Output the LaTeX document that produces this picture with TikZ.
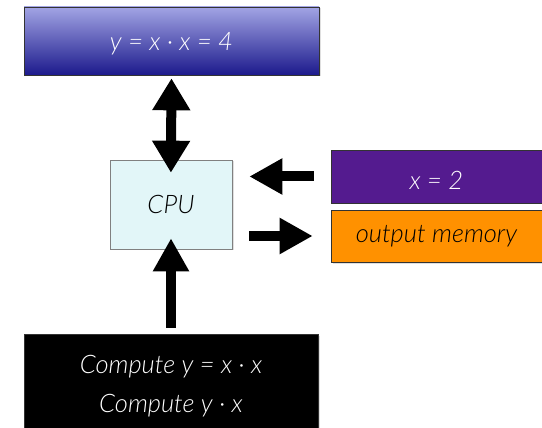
\documentclass[tikz,border=0pt]{standalone}
\usepackage{fontspec}
\setmainfont{Lato}[ItalicFont={Lato Light Italic}]
\usetikzlibrary{arrows.meta,shadows}
\definecolor{memtop}{HTML}{A2A4E4}
\definecolor{membot}{HTML}{1C1A8C}
\definecolor{cpufill}{HTML}{E2F6F8}
\definecolor{xbox}{HTML}{541B8F}
\definecolor{outbox}{HTML}{FF9100}
\tikzset{
  box/.style={draw=black!80, line width=0.6pt, inner sep=0pt,
    font=\fontsize{25.5}{39}\selectfont\itshape,
    drop shadow={opacity=0.25, shadow xshift=1.5pt, shadow yshift=-1.5pt}},
  blk/.style={line width=10pt, -{Triangle[length=33pt,width=34pt]}},
  dblk/.style={line width=10pt, {Triangle[length=32pt,width=36pt]}-{Triangle[length=32pt,width=36pt]}}
}
\begin{document}
\begin{tikzpicture}[x=1pt,y=-1pt]
\useasboundingbox (0,0) rectangle (542,428);
% memory holding the result
\node[box, top color=memtop, bottom color=membot, text=white,
  minimum width=295, minimum height=68] (mem) at (171.5,41) {};
\node[font=\fontsize{25.5}{39}\selectfont\itshape, text=white] (memtxt) at (171.5,44) {y = x · x = 4};
% processor
\node[box, fill=cpufill, draw=black!50, minimum width=122, minimum height=89]
  (cpu) at (171,204.5) {CPU};
% input value
\node[box, fill=xbox, text=white, minimum width=211, minimum height=53]
  (xin) at (436.5,176.5) {};
\node[font=\fontsize{25.5}{39}\selectfont\itshape, text=white] (xtxt) at (436.5,180) {x = 2};
% output memory
\node[box, fill=outbox, text=black, minimum width=211, minimum height=52]
  (out) at (436.5,236) {output memory};
% program
\node[box, fill=black, text=white, minimum width=294, minimum height=94]
  (prog) at (171,381) {};
\node[font=\fontsize{25.5}{39}\selectfont\itshape, text=white, align=center]
  (progtxt) at (171,386) {Compute y = x · x\\Compute y · x};
% connectors
\draw[dblk, shorten <=3pt, shorten >=-13pt] (mem.south) -- (cpu.north);
\draw[blk] ([xshift=-17pt]xin.west) -- ([xshift=17pt]cpu.east |- xin.west);
\draw[blk] ([xshift=17pt]cpu.east |- out.west) -- ([xshift=-18pt]out.west);
\draw[blk, shorten <=6pt, shorten >=-11pt] (prog.north) -- (cpu.south);
\end{tikzpicture}
\end{document}
